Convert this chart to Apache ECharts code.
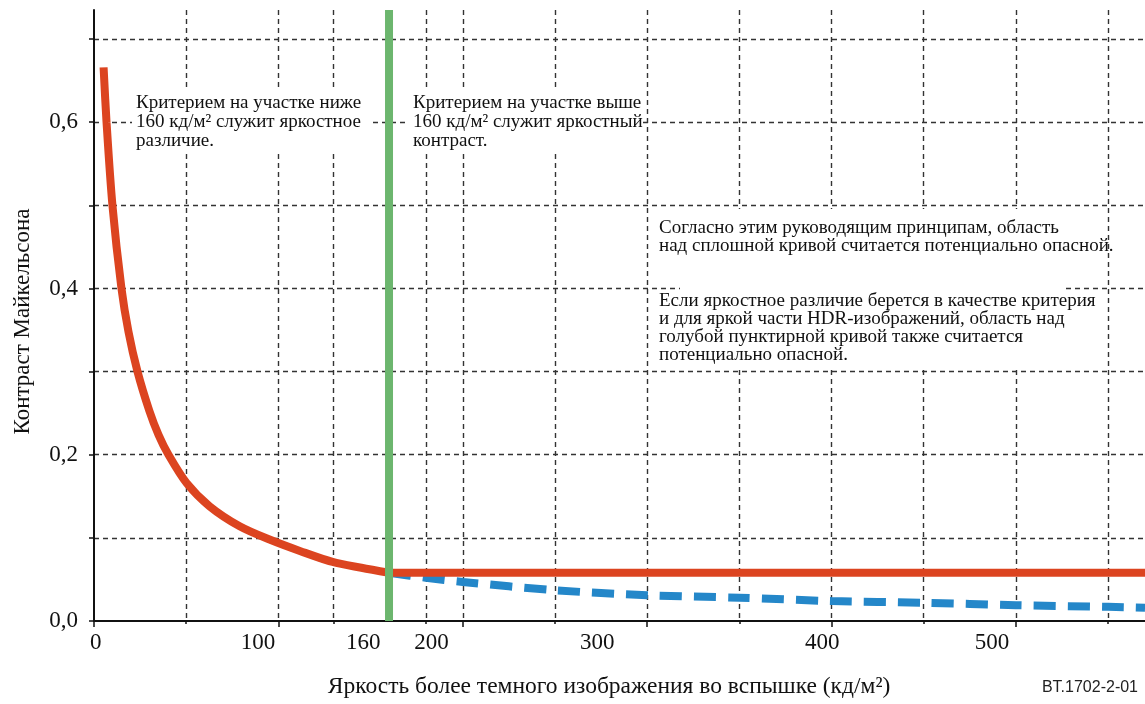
<!DOCTYPE html>
<html>
<head>
<meta charset="utf-8">
<title>Контраст Майкельсона</title>
<style>
  html, body { margin: 0; padding: 0; background: #fff; }
  #chart { width: 1145px; height: 704px; }
</style>
</head>
<body>
<div id="chart"></div>
<script src="https://cdn.jsdelivr.net/npm/echarts@6/dist/echarts.min.js"></script>
<script>
// сплошная кривая: яркостное различие ниже 160 кд/м2
var redLum = [5.2, 6.8, 10, 14.9, 18.7, 23.6, 30, 35, 40.4, 50.2, 62.7, 79, 95.2, 112, 129.4, 145, 160];
var redCon = [0.666, 0.600, 0.500, 0.400, 0.348, 0.300, 0.253, 0.224, 0.200, 0.166, 0.138, 0.114, 0.098, 0.084, 0.071, 0.064, 0.058];
// выше 160 кд/м2 — постоянный яркостный контраст
var flatLum = [160, 570];
var flatCon = [0.058, 0.058];
// голубая пунктирная кривая
var blueLum = [160, 180, 200, 250, 300, 350, 400, 450, 500, 550, 570];
var blueCon = [0.058, 0.052, 0.047, 0.037, 0.031, 0.028, 0.024, 0.022, 0.019, 0.017, 0.016];
// граница 160 кд/м2
var limitLum = 160;

var xMax = 570;
var yMax = 0.735;
var xGridLines = [50, 100, 130, 180, 200, 250, 300, 350, 400, 450, 500, 550];
var xMajorTicks = [0, 100, 200, 300, 400, 500];
var xTickLabels = ['0', '100', '160', '200', '300', '400', '500'];
var xTickLabelAt = [1, 89, 146, 183, 273, 395, 487]; // где подписи стоят на оригинале
var yTicks = [0, 0.1, 0.2, 0.3, 0.4, 0.5, 0.6, 0.7];
var yTickLabels = [0, 0.2, 0.4, 0.6];

var serif = '"Liberation Serif", "Times New Roman", serif';

function pairs(xs, ys) {
    return xs.map(function (x, i) { return [x, ys[i]]; });
}

var chart = echarts.init(document.getElementById('chart'));

var option = {
    animation: false,
    backgroundColor: '#fff',
    grid: { left: 94, right: 0, top: 10, bottom: 83, outerBoundsMode: 'none' },
    xAxis: [{
        type: 'value',
        min: 0,
        max: xMax,
        axisLine: { lineStyle: { color: '#111', width: 2 } },
        axisTick: { customValues: xGridLines, length: 3, lineStyle: { color: '#111', width: 1.5 } },
        axisLabel: { show: false },
        splitLine: {
            show: true,
            lineStyle: { color: '#333', width: 1.4, type: [5, 4] }
        }
    }, {
        type: 'value',
        min: 0,
        max: xMax,
        position: 'bottom',
        axisLine: { show: false },
        axisTick: { customValues: xMajorTicks, length: 6, lineStyle: { color: '#111', width: 1.5 } },
        splitLine: { show: false },
        axisLabel: {
            customValues: xTickLabelAt,
            margin: 10,
            color: '#111',
            fontFamily: serif,
            fontSize: 23,
            formatter: function (v) {
                for (var i = 0; i < xTickLabelAt.length; i++) {
                    if (Math.abs(xTickLabelAt[i] - v) < 1e-6) return xTickLabels[i];
                }
                return '';
            }
        },
        name: 'Яркость более темного изображения во вспышке (кд/м²)',
        nameLocation: 'middle',
        nameGap: 54,
        nameTextStyle: { color: '#111', fontFamily: serif, fontSize: 23.5, padding: [0, 21, 0, 0] }
    }],
    yAxis: {
        type: 'value',
        min: 0,
        max: yMax,
        axisLine: { show: true, lineStyle: { color: '#111', width: 2 } },
        axisTick: { show: true, customValues: yTicks, length: 5, lineStyle: { color: '#111', width: 1.5 } },
        axisLabel: {
            customValues: yTickLabels,
            margin: 16,
            color: '#111',
            fontFamily: serif,
            fontSize: 23,
            formatter: function (v) { return v.toFixed(1).replace('.', ','); }
        },
        splitLine: {
            show: true,
            showMinLine: false,
            lineStyle: { color: '#333', width: 1.4, type: [5, 4] }
        },
        name: 'Контраст Майкельсона',
        nameLocation: 'middle',
        nameRotate: 90,
        nameGap: 60,
        nameTextStyle: { color: '#111', fontFamily: serif, fontSize: 23, padding: [0, 12, 0, 0] }
    },
    series: [{
        type: 'line',
        data: pairs(blueLum, blueCon),
        smooth: 0.3,
        showSymbol: false,
        lineStyle: { color: '#2487c9', width: 8, type: [22, 12], cap: 'butt' },
        z: 2
    }, {
        type: 'line',
        data: pairs(redLum, redCon),
        smooth: 0.3,
        showSymbol: false,
        lineStyle: { color: '#dc4420', width: 8, cap: 'butt' },
        z: 3
    }, {
        type: 'line',
        data: pairs(flatLum, flatCon),
        showSymbol: false,
        lineStyle: { color: '#dc4420', width: 8 },
        z: 3
    }, {
        type: 'line',
        data: [[limitLum, 0], [limitLum, yMax]],
        showSymbol: false,
        lineStyle: { color: '#6cb66e', width: 8 },
        z: 4
    }],
    graphic: [
        { type: 'rect', z: 1, shape: { x: 132, y: 89, width: 240, height: 61 }, style: { fill: '#fff' } },
        { type: 'rect', z: 1, shape: { x: 408, y: 89, width: 234, height: 61 }, style: { fill: '#fff' } },
        { type: 'rect', z: 1, shape: { x: 650, y: 209, width: 452, height: 75 }, style: { fill: '#fff' } },
        { type: 'rect', z: 1, shape: { x: 680, y: 284, width: 383, height: 8 }, style: { fill: '#fff' } },
        { type: 'rect', z: 1, shape: { x: 650, y: 292, width: 452, height: 76 }, style: { fill: '#fff' } },
        {
            type: 'text', z: 5, left: 136, top: 94,
            style: {
                text: 'Критерием на участке ниже\n160 кд/м² служит яркостное\nразличие.',
                font: '19px ' + serif, fill: '#111', lineHeight: 19
            }
        },
        {
            type: 'text', z: 5, left: 413, top: 94,
            style: {
                text: 'Критерием на участке выше\n160 кд/м² служит яркостный\nконтраст.',
                font: '19px ' + serif, fill: '#111', lineHeight: 19
            }
        },
        {
            type: 'text', z: 5, left: 659, top: 219,
            style: {
                text: 'Согласно этим руководящим принципам, область\nнад сплошной кривой считается потенциально опасной.',
                font: '19px ' + serif, fill: '#111', lineHeight: 18
            }
        },
        {
            type: 'text', z: 5, left: 659, top: 292,
            style: {
                text: 'Если яркостное различие берется в качестве критерия\nи для яркой части HDR-изображений, область над\nголубой пунктирной кривой также считается\nпотенциально опасной.',
                font: '19px ' + serif, fill: '#111', lineHeight: 18
            }
        },
        {
            type: 'text', z: 5, right: 7, top: 680,
            style: { text: 'BT.1702-2-01', font: '16px "Liberation Sans", Arial, sans-serif', fill: '#222' }
        }
    ]
};

chart.setOption(option);
</script>
</body>
</html>
